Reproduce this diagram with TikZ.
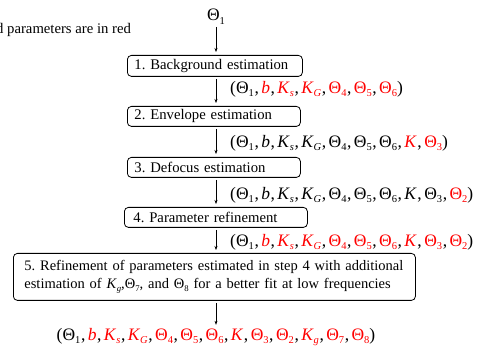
\documentclass[tikz,border=0pt]{standalone}
\usepackage{fontspec}
\setmainfont{Liberation Serif}
\usepackage{graphicx}
\usetikzlibrary{arrows.meta}
\frenchspacing
\newcommand\sbs[1]{\raisebox{-0.45ex}{\scalebox{0.6}{#1}}}
\newcommand\rd[1]{\textcolor{red}{#1}}
\newcommand\Th[1]{Θ\sbs{#1}}
\newcommand\Ki[1]{\textit{K}\sbs{\textit{#1}}}
\newcommand\cm{\hspace{0.6pt},\hspace{2.4pt}}
\begin{document}
\begin{tikzpicture}[x=1pt,y=-1pt,
 box/.style={draw, rounded corners=4pt, line width=0.8pt, align=left, anchor=north west,
   font=\fontsize{14.7}{17}\selectfont, inner xsep=7pt, inner ysep=0pt},
 arr/.style={-{Stealth[length=4pt,width=3pt]}, line width=0.5pt, shorten <=2pt, shorten >=3pt},
 lab/.style={font=\fontsize{17.5}{20}\selectfont, inner sep=0pt}]
\clip (0,0) rectangle (482,347);
\node[anchor=west, inner sep=0pt, font=\fontsize{14.7}{17}\selectfont] (note) at (-4,30) {d parameters are in red};
\node[lab] (theta1) at (216,17) {\Th{1}};
\node[box, minimum width=175pt, minimum height=21pt, text width=161pt] (b1) at (127,55) {1. Background estimation};
\node[box, minimum width=173pt, minimum height=20pt, text width=159pt] (b2) at (127,106) {2. Envelope estimation};
\node[box, minimum width=173pt, minimum height=20pt, text width=159pt] (b3) at (127,157) {3. Defocus estimation};
\node[box, minimum width=179pt, minimum height=20pt, text width=165pt, inner xsep=9pt] (b4) at (124,207) {4. Parameter refinement};
\node[box, minimum width=402pt, minimum height=47pt, text width=380pt, inner xsep=11pt,
  font=\fontsize{14.5}{17.5}\selectfont] (b5) at (13,253)
 {5. Refinement of parameters estimated in step 4 with additional\\
  estimation of \Ki{g},\Th{7}, and \Th{8} for a better fit at low frequencies};
\node[lab, anchor=west] (l1) at (230,89) {(\Th{1}\cm\rd{\textit{b}}\cm\rd{\Ki{s}}\cm\rd{\Ki{G}}\cm\rd{\Th{4}}\cm\rd{\Th{5}}\cm\rd{\Th{6}})};
\node[lab, anchor=west] (l2) at (230,143) {(\Th{1}\cm\textit{b}\cm\Ki{s}\cm\Ki{G}\cm\Th{4}\cm\Th{5}\cm\Th{6}\cm\rd{\textit{K}}\cm\rd{\Th{3}})};
\node[lab, anchor=west] (l3) at (230,195) {(\Th{1}\cm\textit{b}\cm\Ki{s}\cm\Ki{G}\cm\Th{4}\cm\Th{5}\cm\Th{6}\cm\textit{K}\cm\Th{3}\cm\rd{\Th{2}})};
\node[lab, anchor=west] (l4) at (230,242) {(\Th{1}\cm\rd{\textit{b}}\cm\rd{\Ki{s}}\cm\rd{\Ki{G}}\cm\rd{\Th{4}}\cm\rd{\Th{5}}\cm\rd{\Th{6}}\cm\rd{\textit{K}}\cm\rd{\Th{3}}\cm\rd{\Th{2}})};
\node[lab] (out) at (216,337) {(\Th{1}\cm\rd{\textit{b}}\cm\rd{\Ki{s}}\cm\rd{\Ki{G}}\cm\rd{\Th{4}}\cm\rd{\Th{5}}\cm\rd{\Th{6}}\cm\rd{\textit{K}}\cm\rd{\Th{3}}\cm\rd{\Th{2}}\cm\rd{\Ki{g}}\cm\rd{\Th{7}}\cm\rd{\Th{8}})};
\draw[arr] (theta1.south) -- (theta1 |- b1.north);
\draw[arr] (b1.south -| theta1) -- (b2.north -| theta1);
\draw[arr] (b2.south -| theta1) -- (b3.north -| theta1);
\draw[arr] (b3.south -| theta1) -- (b4.north -| theta1);
\draw[arr] (b4.south -| theta1) -- (b5.north -| theta1);
\draw[arr] (b5.south -| theta1) -- (out.north);
\end{tikzpicture}
\end{document}
